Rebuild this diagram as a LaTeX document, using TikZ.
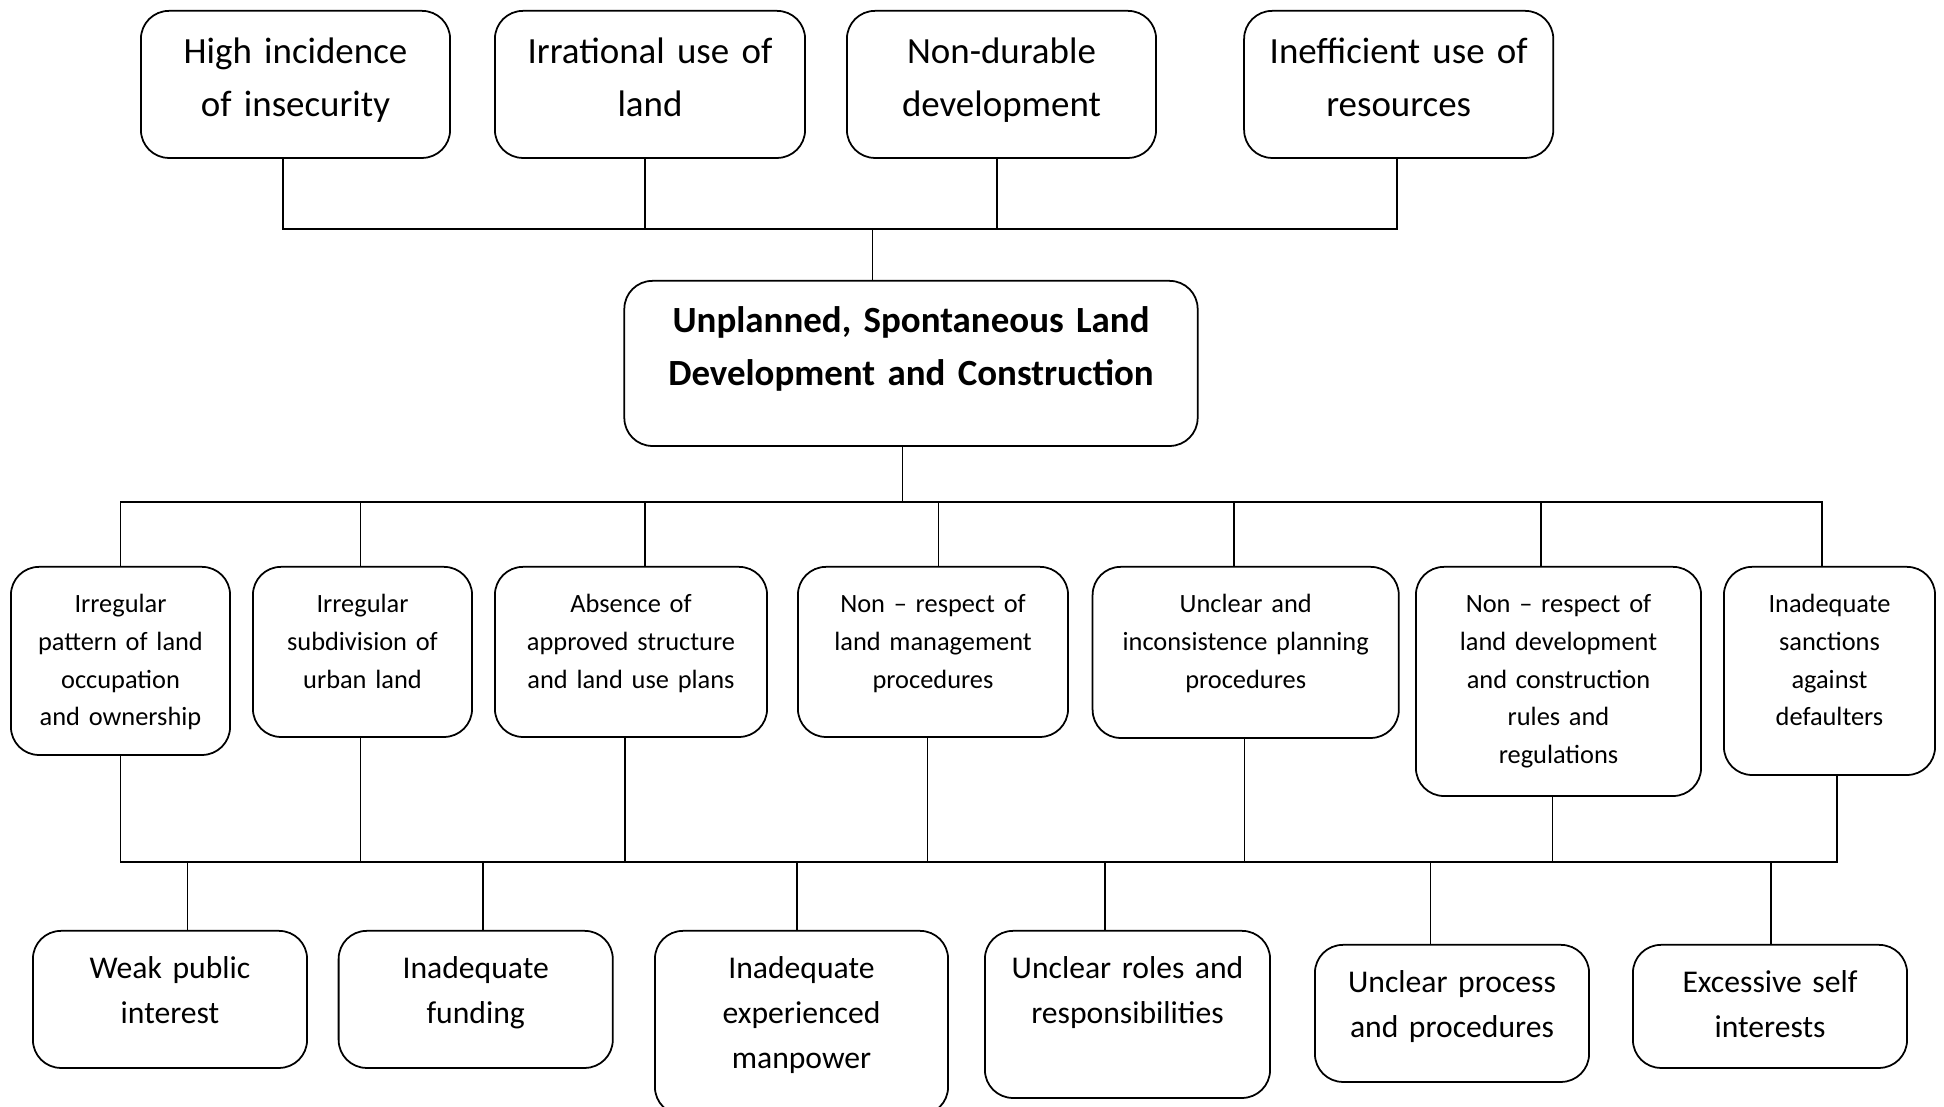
\documentclass[tikz,border=0pt]{standalone}
\usepackage{fontspec}
\setmainfont{Carlito}
\usepackage{tikz}
\usetikzlibrary{positioning, calc}

\begin{document}
\begin{tikzpicture}[x=0.01cm, y=-0.01cm,
    box/.style 2 args={draw, line width=0.5pt, rounded corners=0.28cm, inner sep=0pt,
      align=center, anchor=north, text width=#1, text depth=#2},
    effect/.style={font=\fontsize{10.5}{15}\selectfont, text height=0.53cm},
    core/.style={font=\bfseries\fontsize{10.5}{15}\selectfont, text height=0.52cm},
    cause/.style={font=\fontsize{7.5}{10.7}\selectfont, text height=0.46cm},
    root/.style={font=\fontsize{9}{12.8}\selectfont, text height=0.48cm},
    link/.style={line width=0.5pt}]
          \useasboundingbox (0,0) rectangle (1944,1107);

          % 子圖形 effects (類型: box)
          \begin{scope}
            % 方框
            \node[box={3.09cm}{0.94cm}, effect] (t1) at (295.5,10) {High incidence\\of insecurity};
            \node[box={3.10cm}{0.94cm}, effect] (t2) at (650,10) {Irrational use of\\land};
            \node[box={3.09cm}{0.94cm}, effect] (t3) at (1001.5,10) {Non-durable\\development};
            \node[box={3.09cm}{0.94cm}, effect] (t4) at (1398.7,10) {Inefficient use of\\resources};
          \end{scope}

          % 子圖形 core (類型: box)
          \begin{scope}
            % 方框
            \node[box={5.73cm}{1.13cm}, core] (core) at (911,280)
              {Unplanned, Spontaneous Land\\Development and Construction};
          \end{scope}

          % 子圖形 causes (類型: box)
          \begin{scope}
            % 方框
            \node[box={2.19cm}{1.42cm}, cause] (m1) at (120.5,566) {Irregular\\pattern of land\\occupation\\and ownership};
            \node[box={2.19cm}{1.24cm}, cause] (m2) at (362.5,566) {Irregular\\subdivision of\\urban land};
            \node[box={2.72cm}{1.24cm}, cause] (m3) at (631,566) {Absence of\\approved structure\\and land use plans};
            \node[box={2.70cm}{1.24cm}, cause] (m4) at (933,566) {Non \textendash{} respect of\\land management\\procedures};
            \node[box={3.06cm}{1.25cm}, cause] (m5) at (1245.7,566) {Unclear and\\inconsistence planning\\procedures};
            \node[box={2.85cm}{1.83cm}, cause] (m6) at (1558.5,566) {Non \textendash{} respect of\\land development\\and construction\\rules and\\regulations};
            \node[box={2.11cm}{1.62cm}, cause] (m7) at (1829.5,566) {Inadequate\\sanctions\\against\\defaulters};
          \end{scope}

          % 子圖形 roots (類型: box)
          \begin{scope}
            % 方框
            \node[box={2.74cm}{0.89cm}, root] (b1) at (170,930) {Weak public\\interest};
            \node[box={2.74cm}{0.89cm}, root] (b2) at (475.7,930) {Inadequate\\funding};
            \node[box={2.93cm}{1.36cm}, root] (b3) at (801.5,930) {Inadequate\\experienced\\manpower};
            \node[box={2.85cm}{1.19cm}, root] (b4) at (1127.5,930) {Unclear roles and\\responsibilities};
            \node[box={2.74cm}{0.89cm}, root] (b5) at (1452,944) {Unclear process\\and procedures};
            \node[box={2.74cm}{0.75cm}, root] (b6) at (1770,944) {Excessive self\\interests};
          \end{scope}

          % 子圖形 upper_links (類型: line)
          \begin{scope}
            % 線段
            \coordinate (u1) at (283,229);
            \coordinate (u2) at (645,229);
            \coordinate (u3) at (997,229);
            \coordinate (u4) at (1397,229);
            \coordinate (uc) at (872.5,229);
            \draw[link] (t1.south -| u1) -- (u1) -- (u4) -- (t4.south -| u4);
            \draw[link] (t2.south -| u2) -- (u2);
            \draw[link] (t3.south -| u3) -- (u3);
            \draw[link] (uc) -- (uc |- core.north);
          \end{scope}

          % 子圖形 middle_links (類型: line)
          \begin{scope}
            % 線段
            \coordinate (v0) at (902.5,502);
            \coordinate (v1) at (120.6,502);
            \coordinate (v2) at (360.6,502);
            \coordinate (v3) at (645,502);
            \coordinate (v4) at (938.5,502);
            \coordinate (v5) at (1234,502);
            \coordinate (v6) at (1541,502);
            \coordinate (v7) at (1822,502);
            \draw[link] (core.south -| v0) -- (v0);
            \draw[link] (v1 |- m1.north) -- (v1) -- (v7) -- (v7 |- m7.north);
            \draw[link] (v2) -- (v2 |- m2.north);
            \draw[link] (v3) -- (v3 |- m3.north);
            \draw[link] (v4) -- (v4 |- m4.north);
            \draw[link] (v5) -- (v5 |- m5.north);
            \draw[link] (v6) -- (v6 |- m6.north);
          \end{scope}

          % 子圖形 lower_links (類型: line)
          \begin{scope}
            % 線段
            \coordinate (w1) at (120.6,862);
            \coordinate (w2) at (360.6,862);
            \coordinate (w3) at (625,862);
            \coordinate (w4) at (927.5,862);
            \coordinate (w5) at (1244.4,862);
            \coordinate (w6) at (1552.5,862);
            \coordinate (w7) at (1837,862);
            \draw[link] (m1.south -| w1) -- (w1) -- (w7) -- (m7.south -| w7);
            \draw[link] (m2.south -| w2) -- (w2);
            \draw[link] (m3.south -| w3) -- (w3);
            \draw[link] (m4.south -| w4) -- (w4);
            \draw[link] (m5.south -| w5) -- (w5);
            \draw[link] (m6.south -| w6) -- (w6);
          \end{scope}

          % 子圖形 root_links (類型: line)
          \begin{scope}
            % 線段
            \coordinate (x1) at (187.5,862);
            \coordinate (x2) at (482.7,862);
            \coordinate (x3) at (797,862);
            \coordinate (x4) at (1105,862);
            \coordinate (x5) at (1430.6,862);
            \coordinate (x6) at (1771,862);
            \draw[link] (x1) -- (x1 |- b1.north);
            \draw[link] (x2) -- (x2 |- b2.north);
            \draw[link] (x3) -- (x3 |- b3.north);
            \draw[link] (x4) -- (x4 |- b4.north);
            \draw[link] (x5) -- (x5 |- b5.north);
            \draw[link] (x6) -- (x6 |- b6.north);
          \end{scope}
        \end{tikzpicture}
\end{document}
